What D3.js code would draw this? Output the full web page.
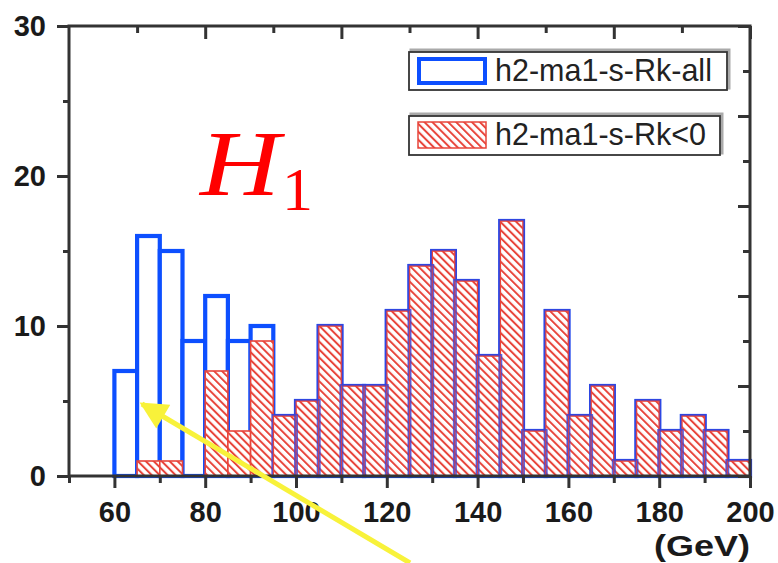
<!DOCTYPE html>
<html>
<head>
<meta charset="utf-8">
<script src="https://cdn.jsdelivr.net/npm/d3@7"></script>
<style>
  body { margin: 0; background: #fff; }
  svg { display: block; }
</style>
</head>
<body>
<div id="chart"></div>
<script>
// Histogram bins (GeV), width 5
const binStarts = [60, 65, 70, 75, 80, 85, 90, 95, 100, 105, 110, 115, 120, 125,
  130, 135, 140, 145, 150, 155, 160, 165, 170, 175, 180, 185, 190, 195];
const binWidth = 5;
// h2-ma1-s-Rk-all counts
const allCounts = [7, 16, 15, 9, 12, 9, 10, 4, 5, 10, 6, 6, 11, 14,
  15, 13, 8, 17, 3, 11, 4, 6, 1, 5, 3, 4, 3, 1];
// h2-ma1-s-Rk<0 counts
const negCounts = [0, 1, 1, 0, 7, 3, 9, 4, 5, 10, 6, 6, 11, 14,
  15, 13, 8, 17, 3, 11, 4, 6, 1, 5, 3, 4, 3, 1];

const legendLabels = ["h2-ma1-s-Rk-all", "h2-ma1-s-Rk<0"];

const xMajor = [60, 80, 100, 120, 140, 160, 180, 200];
const xMinor = [50, 70, 90, 110, 130, 150, 170, 190];
const topMajor = [80, 110, 140, 170, 200];
const topMinor = [65, 95, 125, 155, 185];
const yMajor = [0, 10, 20, 30];
const yMinor = [5, 15, 25];
const rightMajor = [0, 6, 12, 18, 24, 30];
const rightMinor = [3, 9, 15, 21, 27];

const W = 778, H = 563;
const plot = { left: 69, right: 750, top: 26, bottom: 476 };

const blue = "#0d4fff", red = "#e8453b", axisColor = "#333";

const x = d3.scaleLinear().domain([50, 200]).range([plot.left, plot.right]);
const y = d3.scaleLinear().domain([0, 30]).range([plot.bottom, plot.top]);

const svg = d3.select("#chart").append("svg")
  .attr("width", W)
  .attr("height", H);

// hatch pattern for the Rk<0 histogram
const defs = svg.append("defs");
const pat = defs.append("pattern")
  .attr("id", "hatch")
  .attr("patternUnits", "userSpaceOnUse")
  .attr("width", 5.6)
  .attr("height", 5.6)
  .attr("patternTransform", "rotate(-45)");
pat.append("rect").attr("width", 5.6).attr("height", 5.6).attr("fill", "#fff");
pat.append("line")
  .attr("x1", 0).attr("y1", 0).attr("x2", 0).attr("y2", 5.6)
  .attr("stroke", red)
  .attr("stroke-width", 4);

const bins = binStarts.map((b, i) => ({ x0: b, x1: b + binWidth, all: allCounts[i], neg: negCounts[i] }));

// blue outline bars (all)
svg.append("g").selectAll("rect")
  .data(bins.filter(d => d.all > 0))
  .enter().append("rect")
  .attr("x", d => x(d.x0))
  .attr("y", d => y(d.all))
  .attr("width", d => x(d.x1) - x(d.x0))
  .attr("height", d => y(0) - y(d.all))
  .attr("fill", "#fff")
  .attr("stroke", blue)
  .attr("stroke-width", 4.2);

// red hatched bars (Rk<0)
svg.append("g").selectAll("rect")
  .data(bins.filter(d => d.neg > 0))
  .enter().append("rect")
  .attr("x", d => x(d.x0))
  .attr("y", d => y(d.neg))
  .attr("width", d => x(d.x1) - x(d.x0))
  .attr("height", d => y(0) - y(d.neg))
  .attr("fill", "url(#hatch)")
  .attr("stroke", red)
  .attr("stroke-width", 1.6);

// blue edges left visible where both histograms coincide
svg.append("g").selectAll("path")
  .data(bins.filter(d => d.neg > 0 && d.neg === d.all))
  .enter().append("rect")
  .attr("x", d => x(d.x0) - 1.2)
  .attr("y", d => y(d.all) - 1.2)
  .attr("width", d => x(d.x1) - x(d.x0) + 2.4)
  .attr("height", d => y(0) - y(d.all) + 1.2)
  .attr("fill", "none")
  .attr("stroke", "#3a44d8")
  .attr("stroke-opacity", 0.8)
  .attr("stroke-width", 1.6);

// frame
svg.append("rect")
  .attr("x", plot.left)
  .attr("y", plot.top)
  .attr("width", plot.right - plot.left)
  .attr("height", plot.bottom - plot.top)
  .attr("fill", "none")
  .attr("stroke", axisColor)
  .attr("stroke-width", 3);

function styleAxis(g) {
  g.select(".domain").remove();
  g.selectAll(".tick line").attr("stroke", axisColor).attr("stroke-width", 3);
  g.selectAll(".tick text")
    .attr("fill", "#1a1a1a")
    .attr("font-family", "Liberation Sans, Arial, sans-serif")
    .attr("font-weight", "bold")
    .attr("font-size", 29);
}

// bottom axis
svg.append("g")
  .attr("transform", `translate(0,${plot.bottom})`)
  .call(d3.axisBottom(x).tickValues(xMajor).tickSize(12).tickPadding(13))
  .call(styleAxis);
svg.append("g")
  .attr("transform", `translate(0,${plot.bottom})`)
  .call(d3.axisBottom(x).tickValues(xMinor).tickSize(7).tickFormat(""))
  .call(styleAxis);

// top axis (inward ticks)
svg.append("g")
  .attr("transform", `translate(0,${plot.top})`)
  .call(d3.axisBottom(x).tickValues(topMajor).tickSize(13).tickFormat(""))
  .call(styleAxis);
svg.append("g")
  .attr("transform", `translate(0,${plot.top})`)
  .call(d3.axisBottom(x).tickValues(topMinor).tickSize(7).tickFormat(""))
  .call(styleAxis);

// left axis
svg.append("g")
  .attr("transform", `translate(${plot.left},0)`)
  .call(d3.axisLeft(y).tickValues(yMajor).tickSize(12).tickPadding(11))
  .call(styleAxis);
svg.append("g")
  .attr("transform", `translate(${plot.left},0)`)
  .call(d3.axisLeft(y).tickValues(yMinor).tickSize(6).tickFormat(""))
  .call(styleAxis);

// right axis (inward ticks)
svg.append("g")
  .attr("transform", `translate(${plot.right},0)`)
  .call(d3.axisLeft(y).tickValues(rightMajor).tickSize(12).tickFormat(""))
  .call(styleAxis);
svg.append("g")
  .attr("transform", `translate(${plot.right},0)`)
  .call(d3.axisLeft(y).tickValues(rightMinor).tickSize(7).tickFormat(""))
  .call(styleAxis);

// unit label
svg.append("text")
  .attr("x", plot.right)
  .attr("y", 556)
  .attr("text-anchor", "end")
  .attr("font-family", "Liberation Sans, Arial, sans-serif")
  .attr("font-weight", "bold")
  .attr("font-size", 29)
  .attr("textLength", 96)
  .attr("lengthAdjust", "spacingAndGlyphs")
  .attr("fill", "#1a1a1a")
  .text("(GeV)");

// legend
const legend = svg.append("g");
const legendRows = [
  { label: legendLabels[0], top: 52, h: 38, right: 727 },
  { label: legendLabels[1], top: 116, h: 39, right: 720 }
];
legendRows.forEach((r, i) => {
  const g = legend.append("g");
  g.append("rect")
    .attr("x", 411).attr("y", r.top - 2)
    .attr("width", r.right - 409).attr("height", r.h)
    .attr("fill", "none").attr("stroke", "#aaa").attr("stroke-width", 3);
  g.append("rect")
    .attr("x", 409).attr("y", r.top)
    .attr("width", r.right - 409).attr("height", r.h)
    .attr("fill", "#fff").attr("stroke", "#333").attr("stroke-width", 1.8);
  if (i === 0) {
    g.append("rect")
      .attr("x", 419).attr("y", r.top + 7)
      .attr("width", 66).attr("height", 24)
      .attr("fill", "#fff").attr("stroke", blue).attr("stroke-width", 4);
  } else {
    g.append("rect")
      .attr("x", 418).attr("y", r.top + 6)
      .attr("width", 68).attr("height", 26)
      .attr("fill", "url(#hatch)").attr("stroke", red).attr("stroke-width", 1.5);
  }
  g.append("text")
    .attr("x", 495)
    .attr("y", r.top + 29)
    .attr("font-family", "Liberation Sans, Arial, sans-serif")
    .attr("font-size", 30.5)
    .attr("fill", "#222")
    .text(r.label);
});

// H_1 annotation
svg.append("text")
  .attr("x", 200)
  .attr("y", 195)
  .attr("fill", "#ff0000")
  .attr("font-family", "Liberation Serif, Times New Roman, serif")
  .attr("font-style", "italic")
  .attr("font-size", 93)
  .attr("textLength", 80)
  .attr("lengthAdjust", "spacingAndGlyphs")
  .text("H");
svg.append("text")
  .attr("x", 282)
  .attr("y", 210)
  .attr("fill", "#ff0000")
  .attr("font-family", "Liberation Serif, Times New Roman, serif")
  .attr("font-size", 62)
  .text("1");

// yellow arrow pointing at the 65-70 bin
defs.append("marker")
  .attr("id", "arrow")
  .attr("viewBox", "0 0 10 10")
  .attr("refX", 9).attr("refY", 5)
  .attr("markerWidth", 6).attr("markerHeight", 5.5)
  .attr("markerUnits", "strokeWidth")
  .attr("orient", "auto")
  .append("path")
  .attr("d", "M0,0 L10,5 L0,10 Z")
  .attr("fill", "#f8f23a");
svg.append("line")
  .attr("x1", 410).attr("y1", 563)
  .attr("x2", 142).attr("y2", 404)
  .attr("stroke", "#f8f23a")
  .attr("stroke-width", 5)
  .attr("marker-end", "url(#arrow)");
</script>
</body>
</html>
